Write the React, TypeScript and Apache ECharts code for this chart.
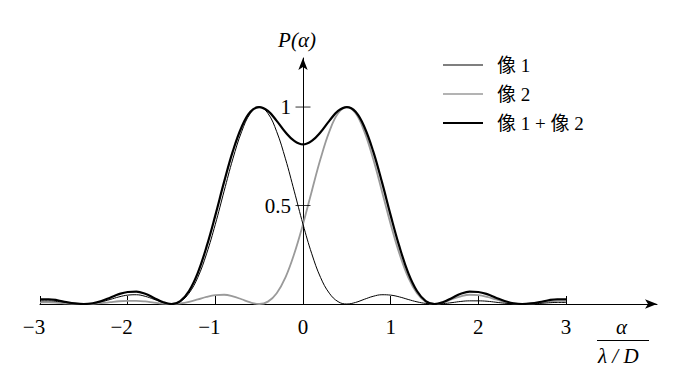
import React, { useEffect, useRef } from 'react';
import * as echarts from 'echarts';

// α / (λ/D) sample positions
const alpha = [
  -3.0, -2.9, -2.8, -2.7, -2.6, -2.5, -2.4, -2.3, -2.2, -2.1,
  -2.0, -1.9, -1.8, -1.7, -1.6, -1.5, -1.4, -1.3, -1.2, -1.1,
  -1.0, -0.9, -0.8, -0.7, -0.6, -0.5, -0.4, -0.3, -0.2, -0.1,
  0.0, 0.1, 0.2, 0.3, 0.4, 0.5, 0.6, 0.7, 0.8, 0.9,
  1.0, 1.1, 1.2, 1.3, 1.4, 1.5, 1.6, 1.7, 1.8, 1.9,
  2.0, 2.1, 2.2, 2.3, 2.4, 2.5, 2.6, 2.7, 2.8, 2.9, 3.0,
];

// 像 1 (centred at -0.5)
const image1 = [
  0.016, 0.016, 0.013, 0.007, 0.002, 0.0, 0.003, 0.011, 0.023, 0.036,
  0.045, 0.047, 0.039, 0.024, 0.008, 0.0, 0.012, 0.055, 0.135, 0.255,
  0.405, 0.573, 0.737, 0.875, 0.968, 1.0, 0.968, 0.875, 0.737, 0.573,
  0.405, 0.255, 0.135, 0.055, 0.012, 0.0, 0.008, 0.024, 0.039, 0.047,
  0.045, 0.036, 0.023, 0.011, 0.003, 0.0, 0.002, 0.007, 0.013, 0.016,
  0.016, 0.014, 0.009, 0.004, 0.001, 0.0, 0.001, 0.003, 0.006, 0.008, 0.008,
];

// 像 2 (centred at +0.5)
const image2 = [
  0.008, 0.008, 0.006, 0.003, 0.001, 0.0, 0.001, 0.004, 0.009, 0.014,
  0.016, 0.016, 0.013, 0.007, 0.002, 0.0, 0.003, 0.011, 0.023, 0.036,
  0.045, 0.047, 0.039, 0.024, 0.008, 0.0, 0.012, 0.055, 0.135, 0.255,
  0.405, 0.573, 0.737, 0.875, 0.968, 1.0, 0.968, 0.875, 0.737, 0.573,
  0.405, 0.255, 0.135, 0.055, 0.012, 0.0, 0.008, 0.024, 0.039, 0.047,
  0.045, 0.036, 0.023, 0.011, 0.003, 0.0, 0.002, 0.007, 0.013, 0.016, 0.016,
];

// 像 1 + 像 2
const imageSum = [
  0.024, 0.024, 0.019, 0.010, 0.003, 0.0, 0.004, 0.015, 0.032, 0.050,
  0.061, 0.063, 0.052, 0.031, 0.010, 0.0, 0.015, 0.066, 0.158, 0.291,
  0.450, 0.620, 0.776, 0.899, 0.976, 1.0, 0.980, 0.930, 0.872, 0.828,
  0.810, 0.828, 0.872, 0.930, 0.980, 1.0, 0.976, 0.899, 0.776, 0.620,
  0.450, 0.291, 0.158, 0.066, 0.015, 0.0, 0.010, 0.031, 0.052, 0.063,
  0.061, 0.050, 0.032, 0.015, 0.004, 0.0, 0.003, 0.010, 0.019, 0.024, 0.024,
];

const seriesNames = ['像 1', '像 2', '像 1 + 像 2'];
const xTickValues = [-3, -2, -1, 0, 1, 2, 3];
const xTickLabels = ['−3', '−2', '−1', '0', '1', '2', '3'];
const yTickValues = [0.5, 1];
const yTickLabels = ['0.5', '1'];
const yAxisName = 'P(α)';
const xAxisNameTop = 'α';
const xAxisNameBottom = 'λ / D';

const FONT = 'Liberation Serif, Noto Sans CJK SC, serif';

const pairs = (ys: number[]) => alpha.map((a, i) => [a, ys[i]]);

export default function App() {
  const ref = useRef<HTMLDivElement>(null);

  useEffect(() => {
    if (!ref.current) return;
    const chart = echarts.init(ref.current, null, { renderer: 'svg' });

    const option: any = {
      animation: false,
      backgroundColor: '#fff',
      grid: { left: 40, right: 20, top: 58, bottom: 73, containLabel: false },
      xAxis: {
        type: 'value',
        min: -3,
        max: 4.038,
        axisLine: {
          onZero: true,
          lineStyle: { color: '#000', width: 1 },
          symbol: ['none', 'arrow'],
          symbolSize: [7, 12],
        },
        axisTick: {
          show: true,
          inside: true,
          length: 8,
          customValues: xTickValues,
          lineStyle: { color: '#000', width: 1 },
        },
        axisLabel: {
          customValues: xTickValues,
          margin: 12,
          color: '#000',
          fontSize: 21,
          fontFamily: FONT,
          formatter: (v: number) => {
            const i = xTickValues.indexOf(Math.round(v));
            const s = i >= 0 ? xTickLabels[i] : '';
            return v < 0 ? `{n|${s}}` : `{p|${s}}`;
          },
          rich: {
            n: { fontSize: 21, fontFamily: FONT, color: '#000', padding: [0, 12, 0, 0] },
            p: { fontSize: 21, fontFamily: FONT, color: '#000' },
          },
        },
        splitLine: { show: false },
      },
      yAxis: {
        type: 'value',
        min: 0,
        max: 1.249,
        position: 'left',
        offset: -263,
        name: yAxisName,
        nameLocation: 'end',
        nameGap: 8,
        nameTextStyle: {
          fontSize: 21,
          fontFamily: FONT,
          fontStyle: 'italic',
          color: '#000',
          padding: [0, 12, 0, 0],
        },
        axisLine: {
          onZero: false,
          lineStyle: { color: '#000', width: 1 },
          symbol: ['none', 'arrow'],
          symbolSize: [7, 12],
        },
        axisTick: { show: false },
        axisLabel: {
          customValues: yTickValues,
          margin: 12,
          color: '#000',
          fontSize: 21,
          fontFamily: FONT,
          formatter: (v: number) => {
            const i = yTickValues.findIndex((t) => Math.abs(t - v) < 1e-6);
            return i >= 0 ? yTickLabels[i] : '';
          },
        },
        splitLine: { show: false },
      },
      legend: {
        orient: 'vertical',
        left: 443,
        top: 55,
        padding: 0,
        itemWidth: 40,
        itemHeight: 14,
        itemGap: 9,
        selectedMode: false,
        textStyle: {
          fontSize: 19,
          fontFamily: FONT,
          color: '#000',
          lineHeight: 20,
          padding: [0, 0, 0, 9],
        },
        data: [
          { name: seriesNames[0], icon: 'path://M0 0H40V1H0Z', itemStyle: { color: '#000', borderWidth: 0 } },
          { name: seriesNames[1], icon: 'path://M0 0H40V1.6H0Z', itemStyle: { color: '#9a9a9a', borderWidth: 0 } },
          { name: seriesNames[2], icon: 'path://M0 0H40V2.2H0Z', itemStyle: { color: '#000', borderWidth: 0 } },
        ],
      },
      series: [
        {
          name: seriesNames[1],
          type: 'line',
          data: pairs(image2),
          smooth: 0.4,
          showSymbol: false,
          symbol: 'none',
          z: 2,
          lineStyle: { color: '#9a9a9a', width: 1.8 },
          itemStyle: { color: '#9a9a9a' },
        },
        {
          name: seriesNames[0],
          type: 'line',
          data: pairs(image1),
          smooth: 0.4,
          showSymbol: false,
          symbol: 'none',
          z: 3,
          lineStyle: { color: '#000', width: 1 },
          itemStyle: { color: '#000' },
        },
        {
          name: seriesNames[2],
          type: 'line',
          data: pairs(imageSum),
          smooth: 0.4,
          showSymbol: false,
          symbol: 'none',
          z: 4,
          lineStyle: { color: '#000', width: 2.2 },
          itemStyle: { color: '#000' },
        },
        {
          name: 'yTicks',
          type: 'scatter',
          data: yTickValues.map((v) => [0, v]),
          symbol: 'rect',
          symbolSize: [15, 1],
          silent: true,
          z: 5,
          itemStyle: { color: '#000' },
        },
      ],
      graphic: [
        {
          type: 'text',
          left: 616,
          top: 316,
          style: { text: xAxisNameTop, fontSize: 21, fontFamily: FONT, fontStyle: 'italic', fill: '#000' },
        },
        {
          type: 'line',
          shape: { x1: 597, y1: 340.5, x2: 649, y2: 340.5 },
          style: { stroke: '#000', lineWidth: 1 },
        },
        {
          type: 'text',
          left: 598,
          top: 345,
          style: { text: xAxisNameBottom, fontSize: 21, fontFamily: FONT, fontStyle: 'italic', fill: '#000' },
        },
      ],
    };

    chart.setOption(option);
    return () => chart.dispose();
  }, []);

  return (
    <div
      ref={ref}
      style={{ position: 'fixed', left: 0, top: 0, width: 677, height: 377, background: '#fff' }}
    />
  );
}
